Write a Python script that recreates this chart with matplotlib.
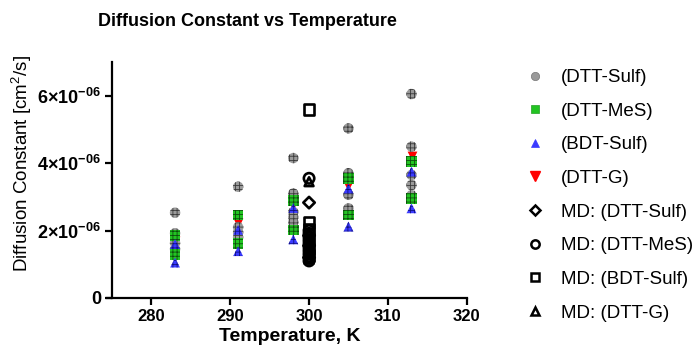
import matplotlib
matplotlib.use("Agg")
import matplotlib.pyplot as plt
from matplotlib.lines import Line2D

plt.rcParams['font.family'] = ['Liberation Sans', 'DejaVu Sans']
plt.rcParams['mathtext.fontset'] = 'custom'
plt.rcParams['mathtext.rm'] = 'Liberation Sans'
plt.rcParams['mathtext.bf'] = 'Liberation Sans:bold'
plt.rcParams['mathtext.it'] = 'Liberation Sans:italic'
plt.rcParams['hatch.linewidth'] = 0.6

# Experimental data (temperature K, diffusion constant in 1e-6 cm^2/s)
dtt_sulf_T = [283, 283, 283, 283, 291, 291, 291, 291, 298, 298, 298, 298, 298, 298,
              305, 305, 305, 305, 313, 313, 313, 313, 313]
dtt_sulf_D = [2.53, 1.92, 1.63, 1.45, 3.30, 2.10, 1.95, 1.80, 4.15, 3.10, 2.55, 2.40, 2.25, 2.10,
              5.03, 3.70, 3.06, 2.66, 6.05, 4.49, 3.65, 3.35, 3.05]
dtt_mes_T = [283, 283, 291, 291, 298, 298, 305, 305, 313, 313]
dtt_mes_D = [1.85, 1.28, 2.46, 1.62, 2.90, 2.02, 3.55, 2.46, 4.05, 2.96]
bdt_sulf_T = [283, 283, 291, 291, 298, 298, 305, 305, 313, 313]
bdt_sulf_D = [1.60, 1.05, 2.02, 1.39, 2.67, 1.74, 3.25, 2.12, 3.75, 2.66]
dtt_g_T = [283, 291, 298, 305, 313]
dtt_g_D = [1.70, 2.23, 2.76, 3.32, 4.21]

# MD data at 300 K
md_sulf_D = [2.83, 1.85, 1.55, 1.20]
md_mes_D = [3.55, 2.00, 1.90, 1.80, 1.70, 1.60, 1.50, 1.40, 1.30, 1.20, 1.10]
md_bdt_D = [5.60, 2.25, 2.05, 1.75, 1.45, 1.25]
md_g_D = [3.45, 1.95, 1.65, 1.35, 1.15]
md_T = 300

y_ticks = [0, 2e-6, 4e-6, 6e-6]
y_ticklabels = ['0', r'2×10$^{\mathbf{-06}}$', r'4×10$^{\mathbf{-06}}$', r'6×10$^{\mathbf{-06}}$']
x_ticks = [280, 290, 300, 310, 320]

scale = 1e-6

fig = plt.figure(figsize=(6.98, 3.56), dpi=100)
ax = fig.add_axes([112/698, 1-298/356, (466.7-112)/698, (298-62)/356])

def sc(T, D, **kw):
    ax.scatter(T, [d*scale for d in D], **kw)

sc(dtt_sulf_T, dtt_sulf_D, marker='o', s=56, facecolor='#9a9a9a', edgecolor='#3a3a3a',
   hatch='++++', linewidth=0, zorder=3)
sc(dtt_mes_T, dtt_mes_D, marker='s', s=60, facecolor='#22c422', edgecolor='#0d4d0d',
   hatch='++++', linewidth=0, zorder=3)
sc(bdt_sulf_T, bdt_sulf_D, marker='^', s=50, facecolor='#3a3aff', edgecolor='#101080',
   hatch='++++', linewidth=0, zorder=3)
sc(dtt_g_T, dtt_g_D, marker='v', s=50, facecolor='red', edgecolor='red', linewidth=0, zorder=2)

mdkw = dict(facecolor='none', edgecolor='black', linewidth=1.9, zorder=4)
sc([md_T]*len(md_sulf_D), md_sulf_D, marker='D', s=34, **mdkw)
sc([md_T]*len(md_mes_D), md_mes_D, marker='o', s=56, **mdkw)
sc([md_T]*len(md_bdt_D), md_bdt_D, marker='s', s=60, **mdkw)
sc([md_T]*len(md_g_D), md_g_D, marker='^', s=40, **mdkw)

ax.set_xlim(275, 320)
ax.set_ylim(0, 7e-6)
ax.set_xticks(x_ticks)
ax.set_yticks(y_ticks)
ax.set_yticklabels(y_ticklabels)
for lab in ax.get_xticklabels():
    lab.set_fontweight('bold')
    lab.set_fontsize(12)
for lab in ax.get_yticklabels():
    lab.set_fontweight('bold')
    lab.set_fontsize(13)
ax.spines['top'].set_visible(False)
ax.spines['right'].set_visible(False)
for s in ['left', 'bottom']:
    ax.spines[s].set_linewidth(1.6)
ax.tick_params(width=1.6, length=5, direction='out', pad=3)
ax.spines['bottom'].set_bounds(275 - 0.6, 320)

ax.set_xlabel('Temperature, K', fontsize=14, fontweight='bold', labelpad=3)
ax.set_ylabel(r'Diffusion Constant [cm$^2$/s]', fontsize=13.5)
ax.yaxis.set_label_coords(-(112-34)/354.7, (298-163)/236)
fig.text(247/698, 1-21/356, 'Diffusion Constant vs Temperature', fontsize=13,
         fontweight='bold', ha='center', va='center')

handles = [
    Line2D([], [], marker='o', ls='none', markersize=6, markerfacecolor='#9a9a9a', markeredgecolor='#777', markeredgewidth=0.5),
    Line2D([], [], marker='s', ls='none', markersize=6, markerfacecolor='#22c422', markeredgecolor='#22a022', markeredgewidth=0.5),
    Line2D([], [], marker='^', ls='none', markersize=6, markerfacecolor='#3a3aff', markeredgecolor='#3a3aff', markeredgewidth=0.5),
    Line2D([], [], marker='v', ls='none', markersize=7, markerfacecolor='red', markeredgecolor='red'),
    Line2D([], [], marker='D', ls='none', markersize=5, markerfacecolor='none', markeredgecolor='black', markeredgewidth=1.8),
    Line2D([], [], marker='o', ls='none', markersize=6, markerfacecolor='none', markeredgecolor='black', markeredgewidth=1.8),
    Line2D([], [], marker='s', ls='none', markersize=6, markerfacecolor='none', markeredgecolor='black', markeredgewidth=1.8),
    Line2D([], [], marker='^', ls='none', markersize=5.5, markerfacecolor='none', markeredgecolor='black', markeredgewidth=1.8),
]
labels = ['(DTT-Sulf)', '(DTT-MeS)', '(BDT-Sulf)', '(DTT-G)',
          'MD: (DTT-Sulf)', 'MD: (DTT-MeS)', 'MD: (BDT-Sulf)', 'MD: (DTT-G)']
fig.legend(handles, labels, loc='upper left', bbox_to_anchor=(527/698, 1-69/356),
           frameon=False, fontsize=13.5, labelspacing=0.88, handletextpad=0.9,
           handlelength=0.9, borderaxespad=0, borderpad=0)

fig.savefig('out.png', dpi=100)
